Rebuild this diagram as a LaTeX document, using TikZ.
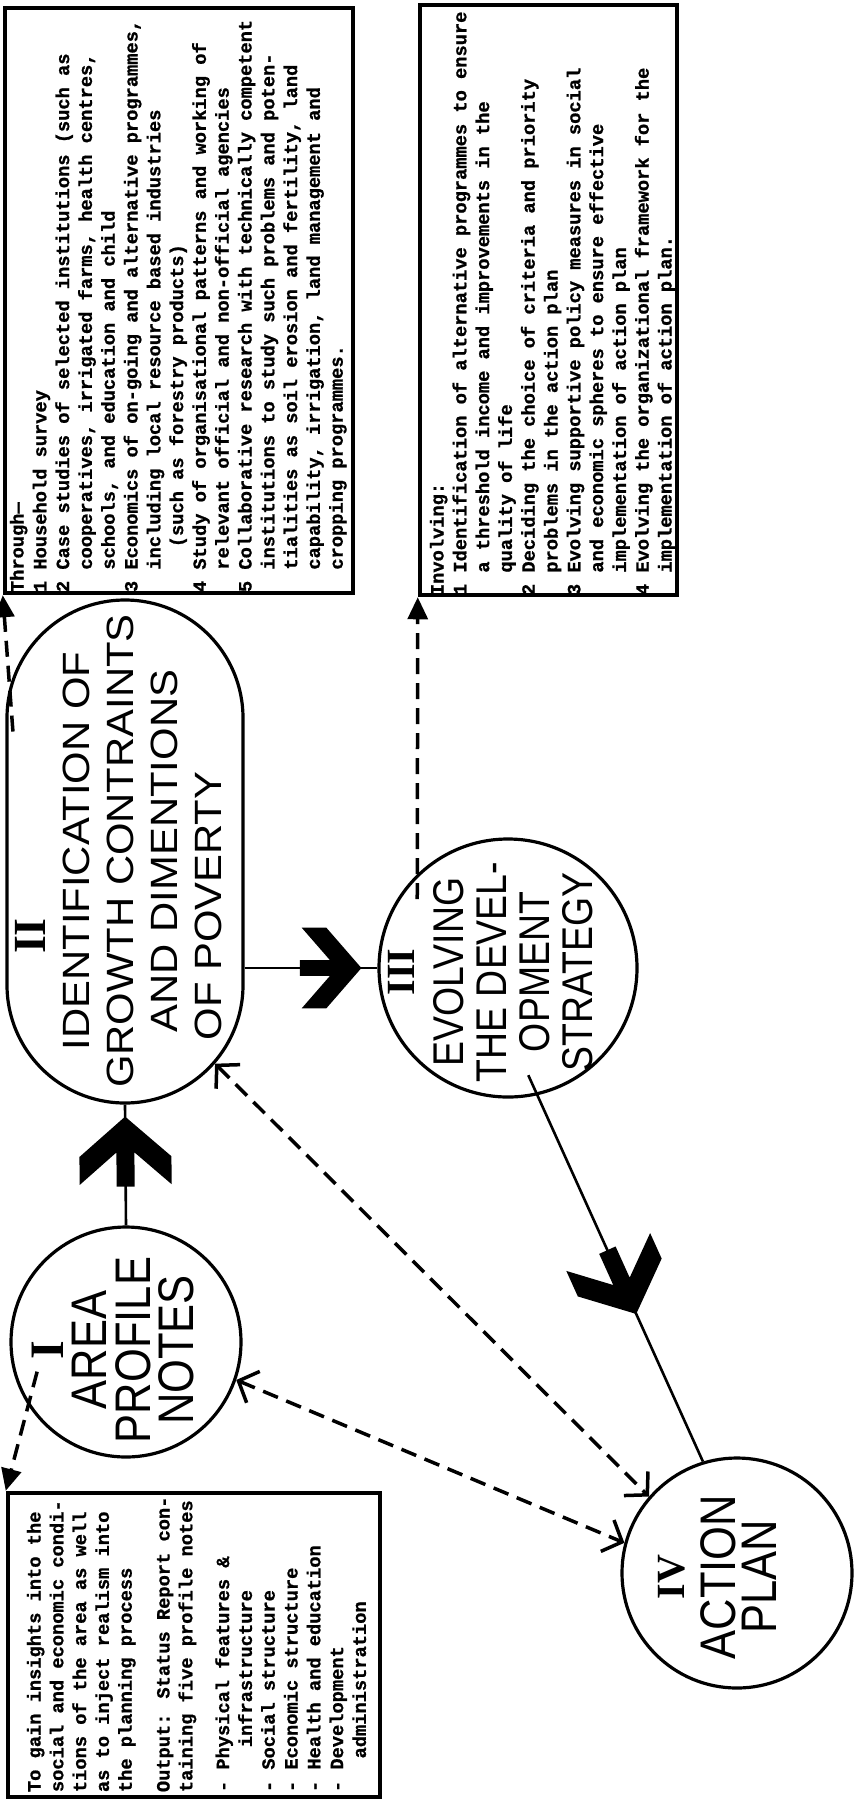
\documentclass[tikz,border=0pt]{standalone}
\usepackage{fontspec}
\usetikzlibrary{shapes.misc,arrows.meta,decorations.markings,calc}
\newfontfamily\boxfont{Liberation Mono}[BoldFeatures={FakeBold=1}]
\newfontfamily\sansA{Liberation Sans}[FakeStretch=0.87]
\newfontfamily\sansB{Liberation Sans}[FakeStretch=1.1]
\newfontfamily\numfont{Liberation Serif}
\newcommand\chevshape{\fill (0,0) -- (-40,46) -- (-68,46) -- (-35.8,9) -- (-70,9) -- (-70,-9) -- (-35.8,-9) -- (-68,-46) -- (-40,-46) -- cycle;}
\newcommand\hang[1]{\hspace*{#1em}}
\begin{document}
\begin{tikzpicture}[x=1pt,y=-1pt,
  shapeline/.style={draw, line width=3.2pt, inner sep=0pt},
  boxline/.style={draw, line width=4.5pt, rectangle, inner sep=0pt},
  conn/.style={line width=2.6pt},
  dconn/.style={line width=3.5pt, dash pattern=on 16pt off 9pt},
  boxtext/.style={rotate=90, anchor=north west, inner sep=0pt, align=left,
    font=\boxfont\bfseries\fontsize{18.7}{22.8}\selectfont},
  shapetext/.style={rotate=90, align=center, inner sep=0pt},
  barb/.tip={Straight Barb[length=16pt,width=34pt]},
  tri/.tip={Triangle[length=22pt,width=20pt]},
]
\useasboundingbox (0,0) rectangle (857,1812);
\fill[white] (0,0) rectangle (857,1812);

% ---- shapes
\node[shapeline, rounded rectangle, rotate=90, minimum width=503pt, minimum height=236pt] (II) at (125,851.5) {};
\node[shapeline, circle, minimum size=230pt] (I) at (126,1342) {};
\node[shapeline, circle, minimum size=258pt] (III) at (508,968) {};
\node[shapeline, circle, minimum size=230pt] (IV) at (737,1573) {};

% ---- shape texts
\node[shapetext, font=\sansA\fontsize{50}{43.5}\selectfont] (Itxt) at (113,1350)
  {{\numfont\bfseries\fontsize{48}{48}\selectfont I}\\AREA\\PROFILE\\NOTES};
\node[shapetext, font=\sansB\fontsize{38}{44}\selectfont] (IItxt) at (119,851)
  {{\numfont\bfseries\fontsize{46}{46}\selectfont II}\hspace*{170pt}\\IDENTIFICATION OF\\GROWTH CONTRAINTS\\AND DIMENTIONS\\OF POVERTY\hspace*{110pt}};
\node[shapetext, font=\sansA\fontsize{43}{43}\selectfont] (IIItxt) at (491,972)
  {{\numfont\bfseries\fontsize{40}{40}\selectfont III}\\[6pt]EVOLVING\\THE DEVEL-\\OPMENT\\STRATEGY};
\node[shapetext, font=\sansA\fontsize{50}{41}\selectfont] (IVtxt) at (717,1577)
  {{\numfont\bfseries\fontsize{40}{40}\selectfont IV}\\[10pt]ACTION\\PLAN};

% ---- text boxes
\node[boxline, minimum width=348pt, minimum height=585pt] (thr) at (179,300.5) {};
\node[boxline, minimum width=257pt, minimum height=590pt] (inv) at (548.5,300) {};
\node[boxline, minimum width=372pt, minimum height=304pt] (lb) at (194,1645) {};

\node[boxtext] (thrtxt) at ($(thr.south west)+(7,-3)$) {Through—\\
1 Household survey\\
2 Case studies of selected institutions (such as\\
\hang{1.2}cooperatives, irrigated farms, health centres,\\
\hang{1.2}schools, and education and child\\
3 Economics of on-going and alternative programmes,\\
\hang{1.2}including local resource based industries\\
\hang{2.4}(such as forestry products)\\
4 Study of organisational patterns and working of\\
\hang{1.2}relevant official and non-official agencies\\
5 Collaborative research with technically competent\\
\hang{1.2}institutions to study such problems and poten-\\
\hang{1.2}tialities as soil erosion and fertility, land\\
\hang{1.2}capability, irrigation, land management and\\
\hang{1.2}cropping programmes.};

\node[boxtext] (invtxt) at ($(inv.south west)+(12,-2)$) {Involving:\\
1 Identification of alternative programmes to ensure\\
\hang{1.2}a threshold income and improvements in the\\
\hang{1.2}quality of life\\
2 Deciding the choice of criteria and priority\\
\hang{1.2}problems in the action plan\\
3 Evolving supportive policy measures in social\\
\hang{1.2}and economic spheres to ensure effective\\
\hang{1.2}implementation of action plan\\
4 Evolving the organizational framework for the\\
\hang{1.2}implementation of action plan.};

\node[boxtext] (lbtxt) at ($(lb.south west)+(21,-7)$) {To gain insights into the\\
social and economic condi-\\
tions of the area as well\\
as to inject realism into\\
the planning process\\[15pt]
Output: Status Report con-\\
taining five profile notes\\[14pt]
- Physical features \&\\
\hang{2.4}infrastructure\\
- Social structure\\
- Economic structure\\
- Health and education\\
- Development\\
\hang{1.8}administration};

% ---- solid connectors with chevrons
\draw[conn, postaction={decorate, decoration={markings, mark=at position -12pt with {\chevshape}}}]
  (I.north) -- (II.west);
\draw[conn, postaction={decorate, decoration={markings, mark=at position -16pt with {\begin{scope}[scale=0.88]\chevshape\end{scope}}}}]
  (II.south |- III.west) -- (III.west);
\draw[conn, shorten <=-22pt, postaction={decorate, decoration={markings, mark=at position 240pt with {\chevshape}}}]
  (III.-77) -- (IV.107);

% ---- dashed connectors
\draw[dconn, -{tri}, shorten <=-45pt] (II.35.5) -- (thr.south west);
\draw[dconn, -{tri}, shorten <=-25pt] (III.134.2) -- (inv.south west);
\draw[dconn, -{tri}, shorten <=-35pt] (I.213.8) -- (lb.north west);
\draw[dconn, {barb}-{barb}] (II.-157) -- (IV.139.8);
\draw[dconn, {barb}-{barb}] (I.-19) -- (IV.165);
\end{tikzpicture}
\end{document}
